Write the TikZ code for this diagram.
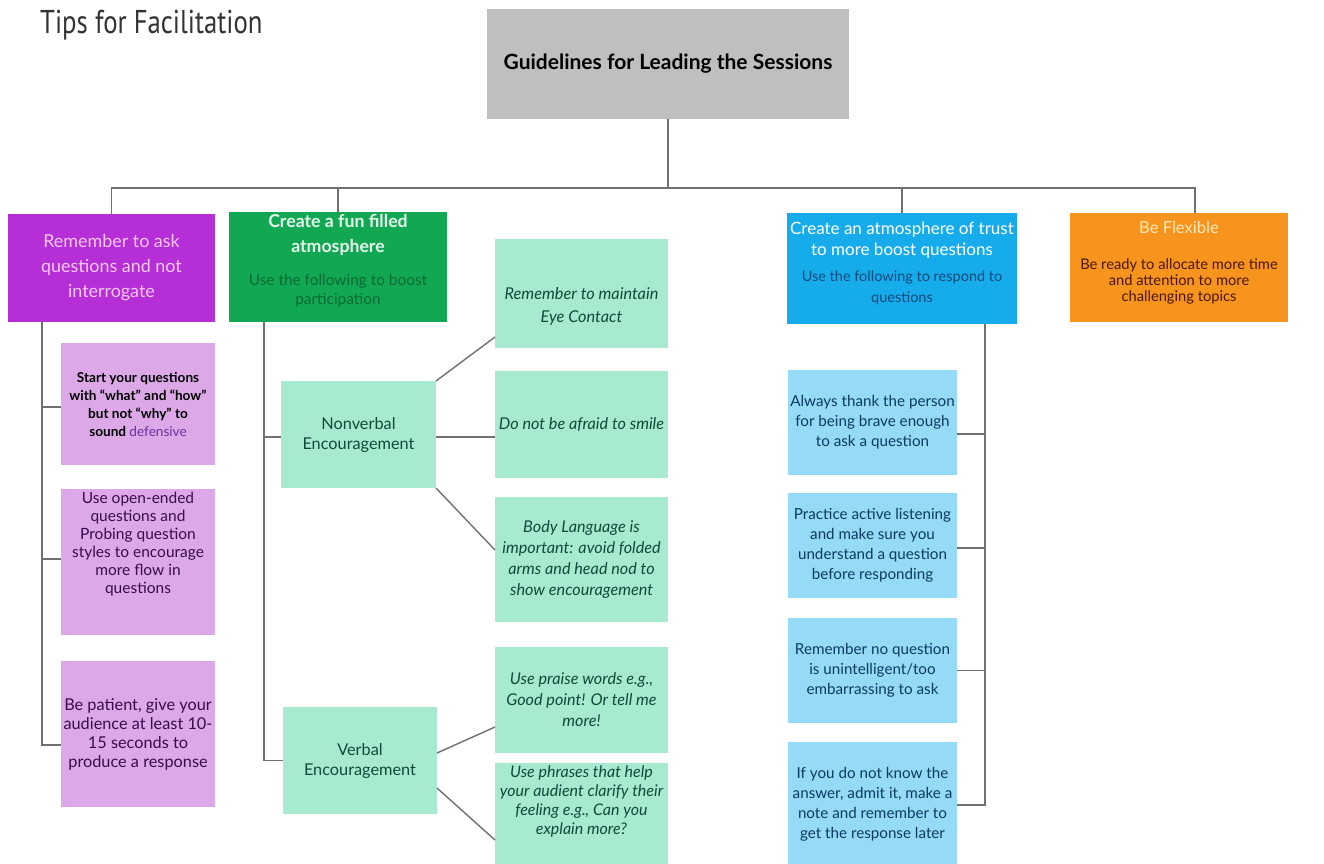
\documentclass[tikz,border=0pt]{standalone}
\usepackage{fontspec}
\setmainfont{Lato}
\newfontfamily\titlefont{PT Sans}[FakeStretch=0.81]
\usetikzlibrary{calc}

\newcommand\fs[2]{\fontsize{#1}{#2}\selectfont}

\definecolor{linegray}{HTML}{707070}
\definecolor{rootgray}{HTML}{BFBFBF}
\definecolor{titlegray}{HTML}{333333}
\definecolor{purpleH}{HTML}{B52ED6}
\definecolor{purpleHT}{HTML}{F6C8F4}
\definecolor{purpleL}{HTML}{DCA8E8}
\definecolor{purpleTxt}{HTML}{3B0A4E}
\definecolor{purpleWord}{HTML}{6B2D9E}
\definecolor{greenH}{HTML}{12A853}
\definecolor{greenHT}{HTML}{E4F8EA}
\definecolor{greenHS}{HTML}{0A6A34}
\definecolor{mint}{HTML}{A8EAD0}
\definecolor{mintTxt}{HTML}{0F4A3A}
\definecolor{blueH}{HTML}{16ACEB}
\definecolor{blueHS}{HTML}{0E4A78}
\definecolor{blueL}{HTML}{95DAF6}
\definecolor{blueTxt}{HTML}{0C3C5C}
\definecolor{orangeH}{HTML}{F7941E}
\definecolor{orangeHT}{HTML}{FFE9B8}
\definecolor{orangeHS}{HTML}{4A1608}

\begin{document}
\begin{tikzpicture}[x=1pt,y=-1pt,
  box/.style={inner sep=0pt, outer sep=0pt, align=center, anchor=center},
  txt/.style={inner sep=0pt, align=center, anchor=center},
  link/.style={draw=linegray, line width=1.4pt},
  pchild/.style={box, fill=purpleL, text=purpleTxt, minimum width=154, font=\fs{15.5}{18}},
  gchild/.style={box, fill=mint, text=mintTxt, minimum width=173, font=\fs{16.2}{21}\itshape},
  gmid/.style={box, fill=mint, text=mintTxt, font=\fs{16.3}{20}},
  bchild/.style={box, fill=blueL, text=blueTxt, minimum width=169, minimum height=105, font=\fs{15.2}{20}}
]
\useasboundingbox (0,0) rectangle (1324,863);
\clip (0,0) rectangle (1324,863);

% page title
\node[inner sep=0pt, anchor=base west, text=titlegray, font=\titlefont\fs{33}{33}] (title) at (40,33) {Tips for Facilitation};

% root
\node[box, fill=rootgray, minimum width=362, minimum height=110, text=black, font=\fs{21}{25}\bfseries] (root) at (668,64) {Guidelines for Leading the Sessions};

% four headers
\node[box, fill=purpleH, minimum width=207, minimum height=108, text=purpleHT, font=\fs{17.9}{25}] (P) at (111.5,268) {Remember to ask\\questions and not\\interrogate};

\node[box, fill=greenH, minimum width=218, minimum height=110] (G) at (338,267) {};
\node[txt, text=greenHT, font=\fs{17.7}{25}\bfseries] (Gt) at (338,234.5) {Create a fun filled\\atmosphere};
\node[txt, text=greenHS, font=\fs{15.4}{19}] (Gs) at (338,290.5) {Use the following to boost\\participation};

\node[box, fill=blueH, minimum width=230, minimum height=111] (B) at (902,268.5) {};
\node[txt, text=white, font=\fs{17}{21}] (Bt) at (902,240.5) {Create an atmosphere of trust\\to more boost questions};
\node[txt, text=blueHS, font=\fs{14.5}{21}] (Bs) at (902,287.5) {Use the following to respond to\\questions};

\node[box, fill=orangeH, minimum width=218, minimum height=109] (O) at (1179,267.5) {};
\node[txt, text=orangeHT, font=\fs{16.6}{20}] (Ot) at (1179,227) {Be Flexible};
\node[txt, text=orangeHS, font=\fs{14.7}{16}] (Os) at (1179,281) {Be ready to allocate more time\\and attention to more\\challenging topics};

% purple column
\node[pchild, minimum height=122, text=black, font=\fs{13.6}{18}\bfseries] (pc1) at (138,404) {Start your questions\\with “what” and “how”\\but not “why” to\\sound \textcolor{purpleWord}{\mdseries defensive}};
\node[pchild, minimum height=146] (pc2) at (138,562) {};
\node[txt, text=purpleTxt, font=\fs{15.5}{18}] (pc2t) at (138,544) {Use open-ended\\questions and\\Probing question\\styles to encourage\\more flow in\\questions};
\node[pchild, minimum height=146, font=\fs{16.3}{19}] (pc3) at (138,734) {Be patient, give your\\audience at least 10-\\15 seconds to\\produce a response};

% green column
\node[gmid, minimum width=155, minimum height=107] (NV) at (358.5,434.5) {Nonverbal\\Encouragement};
\node[gmid, minimum width=154, minimum height=107] (V) at (360,760.5) {Verbal\\Encouragement};

\node[gchild, minimum height=109] (e1) at (581.5,293.5) {};
\node[txt, text=mintTxt, font=\fs{16.3}{23}\itshape] (e1t) at (581.5,306) {Remember to maintain\\Eye Contact};
\node[gchild, minimum height=107] (e2) at (581.5,424.5) {Do not be afraid to smile};
\node[gchild, minimum height=125] (e3) at (581.5,559.5) {Body Language is\\important: avoid folded\\arms and head nod to\\show encouragement};
\node[gchild, minimum height=106] (e4) at (581.5,700) {Use praise words e.g.,\\Good point! Or tell me\\more!};
\node[gchild, minimum height=107] (e5) at (581.5,816.5) {};
\node[txt, text=mintTxt, font=\fs{16}{19}\itshape] (e5t) at (581.5,801) {Use phrases that help\\your audient clarify their\\feeling e.g., Can you\\explain more?};

% blue column
\node[bchild] (b1) at (872.5,422.5) {Always thank the person\\for being brave enough\\to ask a question};
\node[bchild] (b2) at (872.5,545.5) {Practice active listening\\and make sure you\\understand a question\\before responding};
\node[bchild] (b3) at (872.5,670.5) {Remember no question\\is unintelligent/too\\embarrassing to ask};
\node[bchild, minimum height=124] (b4) at (872.5,804) {If you do not know the\\answer, admit it, make a\\note and remember to\\get the response later};

% root to headers
\draw[link] (root.south) -- ++(0,69) coordinate (hub);
\draw[link] (P.north) |- (hub);
\draw[link] ([xshift=16]O.north) |- (hub);
\draw[link] (G.north) -- (G.north |- hub);
\draw[link] (B.north) -- (B.north |- hub);

% purple trunk
\draw[link] ([xshift=34]P.south west) |- ([yshift=-11]pc3.west);
\draw[link] ([yshift=-3]pc1.west) -- ++(-19,0);
\draw[link] ([yshift=3]pc2.west) -- ++(-19,0);

% green trunk and branches
\draw[link] ([xshift=35]G.south west) |- (V.west);
\draw[link] ([yshift=-2.5]NV.west) -- ++(-17,0);
\draw[link] (NV.north east) -- ([yshift=11]e1.south west);
\draw[link] ([yshift=-2.5]NV.east) -- ([yshift=-12.5]e2.west);
\draw[link] (NV.south east) -- ([yshift=9.5]e3.west);
\draw[link] ([yshift=7.5]V.east) -- ([yshift=-27]e4.west);
\draw[link] ([yshift=-27.5]V.east) -- ([yshift=-23.5]e5.west);

% blue trunk
\draw[link] ([xshift=-32]B.south east) |- ([yshift=-1]b4.east);
\draw[link] ([yshift=-11.5]b1.east) -- ++(28,0);
\draw[link] ([yshift=-2.5]b2.east) -- ++(28,0);
\draw[link] (b3.east) -- ++(28,0);
\end{tikzpicture}
\end{document}
